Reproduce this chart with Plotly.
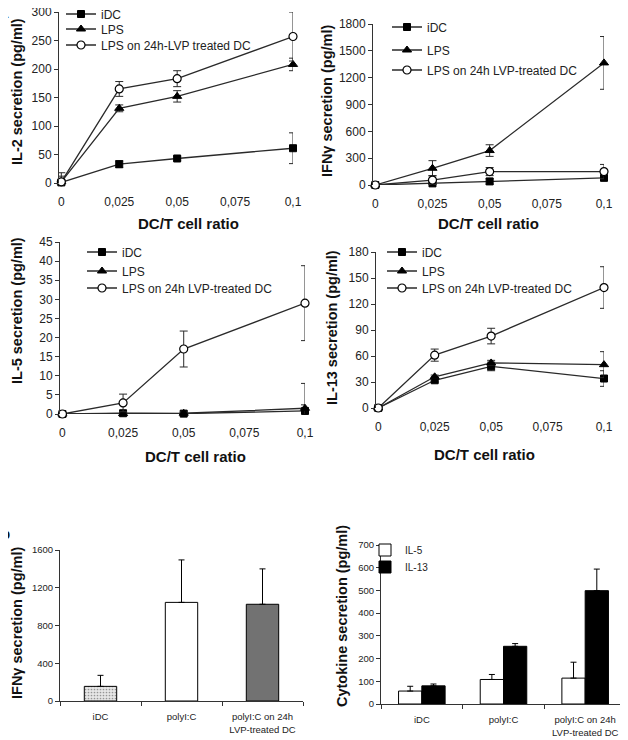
import plotly.graph_objects as go

# page body has an 8px margin: figure drawn so that it fits the 628x740 window
OFF = 8
W, H = 628 - OFF, 740 - OFF

# ---------------- data ----------------
ratio = [0, 0.025, 0.05, 0.1]
ratio_ticks = [0, 0.025, 0.05, 0.075, 0.1]
ratio_ticktext = ["0", "0,025", "0,05", "0,075", "0,1"]
series_names = ["iDC", "LPS", "LPS on 24h-LVP treated DC"]
series_names_b = ["iDC", "LPS", "LPS on 24h LVP-treated DC"]

il2_idc = [1, 33, 43, 61]
il2_idc_err = [3, 6, 3, 27]
il2_lps = [2, 131, 152, 208]
il2_lps_err = [10, 6, 10, 11]
il2_lvp = [2, 165, 183, 257]
il2_lvp_err = [16, 13, 14, 43]

ifn_idc = [0, 18, 40, 80]
ifn_idc_err = [5, 15, 30, 20]
ifn_lps = [0, 187, 385, 1365]
ifn_lps_err = [10, 85, 65, 295]
ifn_lvp = [0, 55, 150, 150]
ifn_lvp_err = [10, 50, 45, 80]

il5_idc = [0, 0.2, 0.1, 0.8]
il5_idc_err = [0.2, 0.2, 0.2, 1.6]
il5_lps = [0, 0.1, 0.2, 1.5]
il5_lps_err = [0.2, 0.2, 0.3, 6.5]
il5_lvp = [0, 2.9, 17, 29]
il5_lvp_err = [0.3, 2.3, 4.7, 9.8]

il13_idc = [0, 32, 48, 34]
il13_idc_err = [1, 2, 5, 9]
il13_lps = [0, 36, 52, 50]
il13_lps_err = [1, 2, 3, 15]
il13_lvp = [0, 61, 83, 139]
il13_lvp_err = [1, 7, 9, 24]

bar_cats = ["iDC", "polyI:C", "polyI:C on 24h<br>LVP-treated DC"]
ifn_bar = [155, 1045, 1025]
ifn_bar_err = [117, 450, 375]
il5_bar = [57, 108, 114]
il5_bar_err = [21, 22, 70]
il13_bar = [80, 254, 499]
il13_bar_err = [8, 12, 95]

FONT = "Arial, 'Liberation Sans', sans-serif"
LINE = "#2a2a2a"

def px_x(p):
    return (p - OFF) / W

def px_y(p):
    return 1 - (p - OFF) / H

fig = go.Figure()

markers = [
    dict(symbol="square", size=7, color="black", line=dict(color="black", width=1)),
    dict(symbol="triangle-up", size=8, color="black", line=dict(color="black", width=1)),
    dict(symbol="circle", size=8, color="white", line=dict(color="black", width=1.2)),
]

# legend placement per panel: (text-left x px, [entry centre y px])
legend_pos = [
    (101, [14, 29, 45]),
    (427, [27, 50, 70]),
    (122, [252, 271, 288]),
    (422, [252, 271, 288]),
]

panels = [
    ("x", "y", series_names,
     [(il2_idc, il2_idc_err), (il2_lps, il2_lps_err), (il2_lvp, il2_lvp_err)]),
    ("x2", "y2", series_names_b,
     [(ifn_idc, ifn_idc_err), (ifn_lps, ifn_lps_err), (ifn_lvp, ifn_lvp_err)]),
    ("x3", "y3", series_names_b,
     [(il5_idc, il5_idc_err), (il5_lps, il5_lps_err), (il5_lvp, il5_lvp_err)]),
    ("x4", "y4", series_names_b,
     [(il13_idc, il13_idc_err), (il13_lps, il13_lps_err), (il13_lvp, il13_lvp_err)]),
]

LEG_OFF = 40
legends = {}
leg_n = 0

def new_legend(text_x, cy, size=12):
    global leg_n
    leg_n += 1
    key = "legend" if leg_n == 1 else f"legend{leg_n}"
    legends[key] = dict(x=px_x(text_x - LEG_OFF), y=px_y(cy), xanchor="left", yanchor="middle",
                        bgcolor="rgba(0,0,0,0)",
                        font=dict(family=FONT, size=size, color="#222"),
                        itemwidth=30, borderwidth=0)
    return key

for p, (xa, ya, names, data) in enumerate(panels):
    tx, ys = legend_pos[p]
    for i, (vals, errs) in enumerate(data):
        lg = new_legend(tx, ys[i])
        fig.add_trace(go.Scatter(
            x=ratio, y=vals, name=names[i], mode="lines+markers",
            xaxis=xa, yaxis=ya, legend=lg, cliponaxis=False,
            line=dict(color=LINE, width=1.3),
            marker=markers[i],
            error_y=dict(type="data", array=errs, visible=True,
                         color=LINE, thickness=1, width=4),
        ))

# bar panel 1
fig.add_trace(go.Bar(
    x=bar_cats, y=ifn_bar, xaxis="x5", yaxis="y5", showlegend=False,
    marker=dict(color=["#e6e6e6", "white", "#727272"],
                line=dict(color="black", width=1),
                pattern=dict(shape=[".", "", ""], size=3, solidity=0.25,
                             fgcolor=["#666666", "white", "#727272"],
                             fillmode="overlay")),
    width=0.4,
    error_y=dict(type="data", array=ifn_bar_err, arrayminus=[0, 0, 0],
                 symmetric=False, color="black", thickness=1, width=3),
))

# bar panel 2
lg5a = new_legend(405, 550, 10)
fig.add_trace(go.Bar(
    x=bar_cats, y=il5_bar, name="IL-5", xaxis="x6", yaxis="y6", legend=lg5a,
    marker=dict(color="white", line=dict(color="black", width=1)),
    error_y=dict(type="data", array=il5_bar_err, arrayminus=[0, 0, 0],
                 symmetric=False, color="black", thickness=1, width=3),
))
lg5b = new_legend(405, 567, 10)
fig.add_trace(go.Bar(
    x=bar_cats, y=il13_bar, name="IL-13", xaxis="x6", yaxis="y6", legend=lg5b,
    marker=dict(color="black", line=dict(color="black", width=1)),
    error_y=dict(type="data", array=il13_bar_err, arrayminus=[0, 0, 0],
                 symmetric=False, color="black", thickness=1, width=3),
))

tickfont = dict(family=FONT, size=12, color="#222")
smalltick = dict(family=FONT, size=9.5, color="#222")

def line_x(dom, anchor):
    return dict(domain=[px_x(dom[0]), px_x(dom[1])], range=[-0.001, 0.1],
                anchor=anchor, tickvals=ratio_ticks, ticktext=ratio_ticktext,
                showline=False, showgrid=False, zeroline=False, ticks="",
                tickfont=tickfont, ticklabelstandoff=10, ticklabeloverflow="allow")

def line_y(dom, anchor, rng, dtick):
    return dict(domain=[px_y(dom[0]), px_y(dom[1])], range=rng, dtick=dtick,
                anchor=anchor, showline=True, linecolor="#333", linewidth=1,
                ticks="outside", ticklen=4, tickcolor="#333",
                showgrid=False, zeroline=False, tickfont=tickfont,
                ticklabeloverflow="allow")

def bar_x(dom, anchor):
    return dict(domain=[px_x(dom[0]), px_x(dom[1])], anchor=anchor,
                showline=True, linecolor="#333", linewidth=1,
                ticks="outside", ticklen=4, tickcolor="#333",
                tickson="boundaries", showgrid=False, zeroline=False,
                tickfont=smalltick, ticklabelstandoff=7)

def bar_y(dom, anchor, rng, dtick):
    return dict(domain=[px_y(dom[0]), px_y(dom[1])], range=rng, dtick=dtick,
                anchor=anchor, showline=True, linecolor="#333", linewidth=1,
                ticks="outside", ticklen=4, tickcolor="#333",
                showgrid=False, zeroline=False, tickfont=smalltick)

fig.update_layout(
    width=W, height=H, margin=dict(l=0, r=0, t=0, b=0, autoexpand=False),
    paper_bgcolor="white", plot_bgcolor="white",
    font=dict(family=FONT, color="#222"),
    xaxis=line_x((59, 293), "y"),
    yaxis=line_y((183, 12), "x", [0, 300], 50),
    xaxis2=line_x((373, 604), "y2"),
    yaxis2=line_y((185, 24), "x2", [0, 1800], 300),
    xaxis3=line_x((60, 305), "y3"),
    yaxis3=line_y((414, 242), "x3", [0, 45], 5),
    xaxis4=line_x((376, 604), "y4"),
    yaxis4=line_y((408, 252), "x4", [0, 180], 30),
    xaxis5=bar_x((60, 303), "y5"),
    yaxis5=bar_y((701, 550), "x5", [0, 1600], 400),
    xaxis6=bar_x((381, 626), "y6"),
    yaxis6=bar_y((704, 545), "x6", [0, 700], 100),
    barmode="group", bargap=0.43, bargroupgap=0,
    **legends,
)

ann = []
def ytitle(x, y, text, size=14.5):
    ann.append(dict(x=px_x(x), y=px_y(y), xref="paper", yref="paper", text=text,
                    textangle=-90, showarrow=False, xanchor="center", yanchor="middle",
                    font=dict(family=FONT, size=size, color="#111", weight="bold")))

def xtitle(x, y, text, size=15):
    ann.append(dict(x=px_x(x), y=px_y(y), xref="paper", yref="paper", text=text,
                    showarrow=False, xanchor="center", yanchor="middle",
                    font=dict(family=FONT, size=size, color="#111", weight="bold")))

ytitle(17, 92, "IL-2 secretion (pg/ml)")
ytitle(327, 101, "IFNγ secretion (pg/ml)")
ytitle(17, 311, "IL-5 secretion (pg/ml)")
ytitle(332, 328, "IL-13 secretion (pg/ml)")
ytitle(17, 623, "IFNγ secretion (pg/ml)")
ytitle(342, 616, "Cytokine secretion (pg/ml)")
xtitle(188, 223, "DC/T cell ratio")
xtitle(488, 223, "DC/T cell ratio")
xtitle(195, 457, "DC/T cell ratio")
xtitle(484, 455, "DC/T cell ratio")

# panel letters: only a sliver shows at the left edge, as in the reference
ann.append(dict(x=px_x(11), y=px_y(12), xref="paper", yref="paper", text="a",
                showarrow=False, xanchor="right", yanchor="middle",
                font=dict(family=FONT, size=15, color="#111", weight="bold")))
ann.append(dict(x=px_x(12), y=px_y(533), xref="paper", yref="paper", text="b",
                showarrow=False, xanchor="right", yanchor="middle",
                font=dict(family=FONT, size=15, color="#111", weight="bold")))

fig.update_layout(annotations=ann)

fig.write_html("out.html")
